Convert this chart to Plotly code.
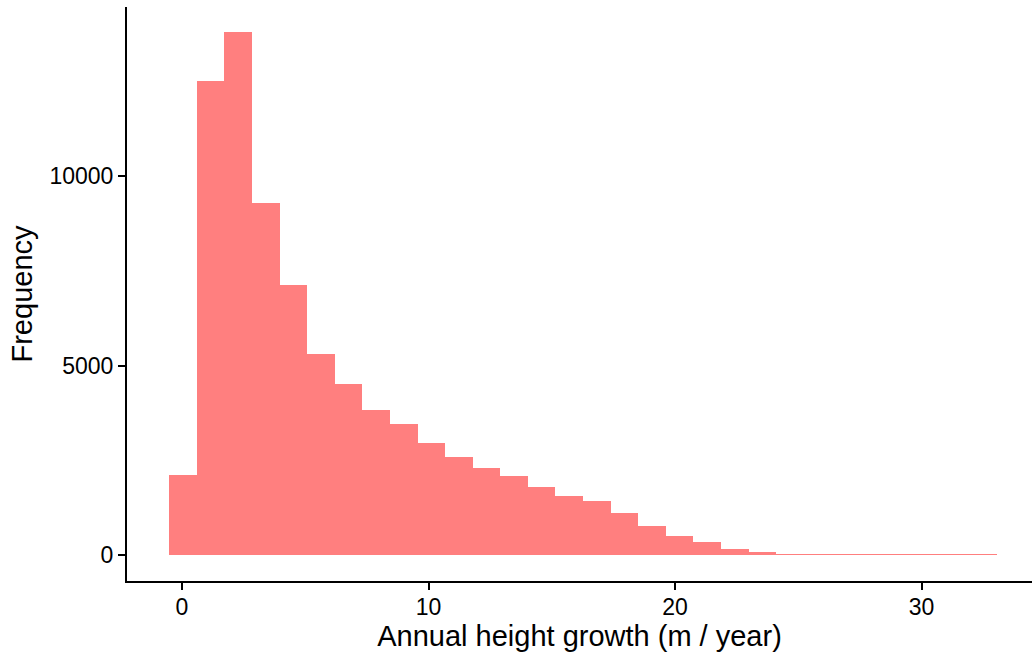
import plotly.graph_objects as go

# Histogram of annual height growth (30 bins), counts
bin_start = -0.515
bin_width = 1.119
counts = [2102, 12497, 13787, 9299, 7117, 5299, 4508, 3827, 3450, 2964,
          2595, 2304, 2093, 1803, 1566, 1434, 1117, 774, 510, 352,
          158, 88, 35, 30, 22, 20, 19, 18, 17, 16]
x_ticks = [0, 10, 20, 30]
y_ticks = [0, 5000, 10000]

centers = [bin_start + bin_width * (i + 0.5) for i in range(len(counts))]

fig = go.Figure()
fig.add_trace(go.Bar(
    x=centers,
    y=counts,
    width=bin_width,
    marker=dict(color="rgba(255,0,0,0.5)", line=dict(width=0)),
    showlegend=False,
))

axis_font = dict(family="Liberation Sans, Arial, sans-serif", size=23, color="black")
title_font = dict(family="Liberation Sans, Arial, sans-serif", size=29, color="black")

fig.update_layout(
    width=1032,
    height=653,
    margin=dict(l=127, r=0, t=7, b=72),
    paper_bgcolor="white",
    plot_bgcolor="white",
    bargap=0,
    xaxis=dict(
        range=[-2.23, 34.48],
        tickvals=x_ticks,
        ticktext=[str(v) for v in x_ticks],
        showgrid=False,
        zeroline=False,
        showline=True,
        linecolor="black",
        linewidth=2,
        ticks="outside",
        ticklen=7,
        tickwidth=2,
        tickcolor="black",
        tickfont=axis_font,
        ticklabelstandoff=-3,
        title=dict(text="Annual height growth (m / year)", font=title_font, standoff=1),
    ),
    yaxis=dict(
        range=[-686, 14459],
        tickvals=y_ticks,
        ticktext=[str(v) for v in y_ticks],
        showgrid=False,
        zeroline=False,
        showline=True,
        linecolor="black",
        linewidth=2,
        ticks="outside",
        ticklen=7,
        tickwidth=2,
        tickcolor="black",
        tickfont=axis_font,
        title=dict(text="Frequency", font=title_font, standoff=8),
    ),
)

# drop the page's default body margin so the figure sits at the window origin
fig.write_html("out.html", config={"displayModeBar": False},
               post_script="document.body.style.margin='0';")
